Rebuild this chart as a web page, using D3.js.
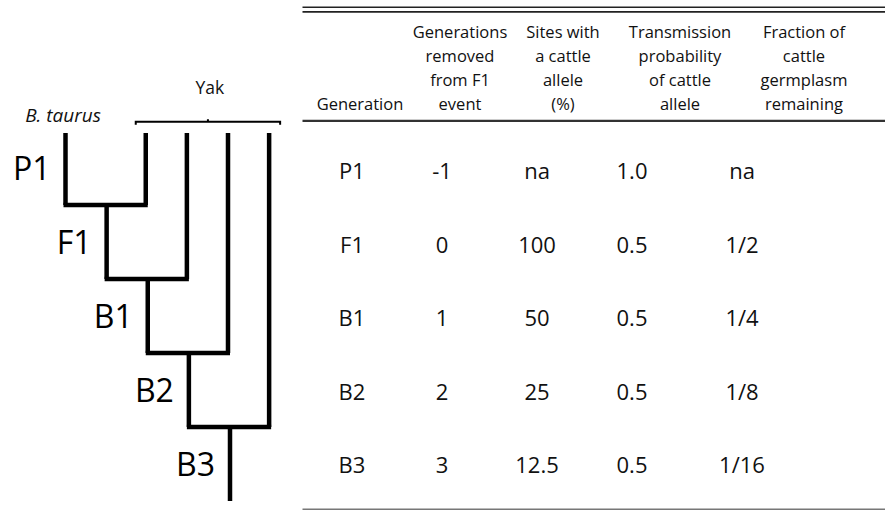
<!DOCTYPE html>
<html>
<head>
<meta charset="utf-8">
<script src="https://cdn.jsdelivr.net/npm/d3@7"></script>
<style>
  html, body { margin: 0; padding: 0; background: #fff; }
  svg { display: block; font-family: "Open Sans", "Noto Sans", sans-serif; }
</style>
</head>
<body>
<svg id="chart" width="885" height="511"></svg>
<script>
// ===== Data =====
const generations  = ['P1', 'F1', 'B1', 'B2', 'B3'];
const removed      = ['-1', '0', '1', '2', '3'];
const sites        = ['na', '100', '50', '25', '12.5'];
const transmission = ['1.0', '0.5', '0.5', '0.5', '0.5'];
const fraction     = ['na', '1/2', '1/4', '1/8', '1/16'];

const headers = [
    ['Generation'],
    ['Generations', 'removed', 'from F1', 'event'],
    ['Sites with', 'a cattle', 'allele', '(%)'],
    ['Transmission', 'probability', 'of cattle', 'allele'],
    ['Fraction of', 'cattle', 'germplasm', 'remaining']
];

const yakCount = 4; // one yak parent per backcross step

// ===== Layout =====
const svg = d3.select('#chart');
const ink = '#000';

// Tree: lanes run left to right, levels top to bottom
const laneX  = d3.scaleLinear().domain([0, 4]).range([65.5, 230]);
const levelY = d3.scaleLinear().domain([0, 4]).range([205, 501]);
const treeTop = 133;
const yakShift = -2;

const tree = svg.append('g').attr('class', 'tree');

// B. taurus parent line
tree.append('line')
    .attr('x1', laneX(0)).attr('y1', treeTop)
    .attr('x2', laneX(0)).attr('y2', levelY(0));

// Yak parent lines: yak j joins hybrid j at level j
d3.range(yakCount).forEach(j => {
    const yx = laneX(j + 2) + yakShift;
    tree.append('line')
        .attr('x1', yx).attr('y1', treeTop)
        .attr('x2', yx).attr('y2', levelY(j));
    // cross bar between hybrid lineage and yak parent
    tree.append('line')
        .attr('x1', laneX(j) - 2).attr('y1', levelY(j))
        .attr('x2', yx + 2).attr('y2', levelY(j));
});

// Hybrid descendants (F1, B1, B2, B3)
generations.slice(1).forEach((gen, i) => {
    const k = i + 1;
    tree.append('line')
        .attr('x1', laneX(k)).attr('y1', levelY(k - 1))
        .attr('x2', laneX(k)).attr('y2', levelY(k));
});

tree.selectAll('line')
    .style('stroke', ink)
    .style('stroke-width', '4.5px');

// Generation labels on the tree
tree.selectAll('text.gen')
    .data(generations)
    .join('text')
    .attr('class', 'gen')
    .attr('x', (d, k) => laneX(k) - 15)
    .attr('y', (d, k) => levelY(k) - 25)
    .attr('text-anchor', 'end')
    .style('font-size', '32px')
    .style('fill', ink)
    .text(d => d);

// Parent labels
tree.append('text')
    .attr('x', 63).attr('y', 122)
    .attr('text-anchor', 'middle')
    .style('font-size', '19px')
    .style('font-style', 'italic')
    .style('fill', '#111')
    .text('B. taurus');

const bracketL = laneX(2) - 12, bracketR = laneX(5) + 9, bracketY = 121.7;
const bracketMid = (bracketL + bracketR) / 2;
tree.append('path')
    .attr('d', `M ${bracketL} ${bracketY + 3} L ${bracketL} ${bracketY} L ${bracketR} ${bracketY} L ${bracketR} ${bracketY + 3}` +
               ` M ${bracketMid} ${bracketY} L ${bracketMid} ${bracketY - 2.5}`)
    .style('fill', 'none')
    .style('stroke', ink)
    .style('stroke-width', '2px');

tree.append('text')
    .attr('x', bracketMid + 2).attr('y', 94)
    .attr('text-anchor', 'middle')
    .style('font-size', '17.5px')
    .style('fill', '#111')
    .text('Yak');

// ===== Table =====
const tableLeft = 302.5, tableRight = 885;
const headX = [360, 460, 563, 680, 804];
const bodyX = [352, 442, 537, 632, 742];
const rowY  = d3.scaleLinear().domain([0, 4]).range([179, 473]);
const headBase = 110, headStep = 24;

const table = svg.append('g').attr('class', 'table');

// Rules: double top rule, header rule, bottom rule
[[7.3, '#222', 1.6], [11.9, '#222', 1.6], [120.8, '#333', 2.2], [509.3, '#777', 1.6]].forEach(([y, c, w]) => {
    table.append('line')
        .attr('x1', tableLeft).attr('x2', tableRight)
        .attr('y1', y).attr('y2', y)
        .style('stroke', c)
        .style('stroke-width', w + 'px');
});

// Header text, bottom aligned
headers.forEach((lines, c) => {
    const t = table.append('text')
        .attr('text-anchor', 'middle')
        .style('font-size', '16.5px')
        .style('fill', '#111');
    lines.forEach((ln, i) => {
        t.append('tspan')
            .attr('x', headX[c])
            .attr('y', headBase - headStep * (lines.length - 1 - i))
            .text(ln);
    });
});

// Body cells
const columns = [generations, removed, sites, transmission, fraction];
columns.forEach((col, c) => {
    table.selectAll(`text.c${c}`)
        .data(col)
        .join('text')
        .attr('class', `c${c}`)
        .attr('x', bodyX[c])
        .attr('y', (d, r) => rowY(r))
        .attr('text-anchor', 'middle')
        .style('font-size', '22px')
        .style('fill', '#111')
        .text(d => d);
});
</script>
</body>
</html>
